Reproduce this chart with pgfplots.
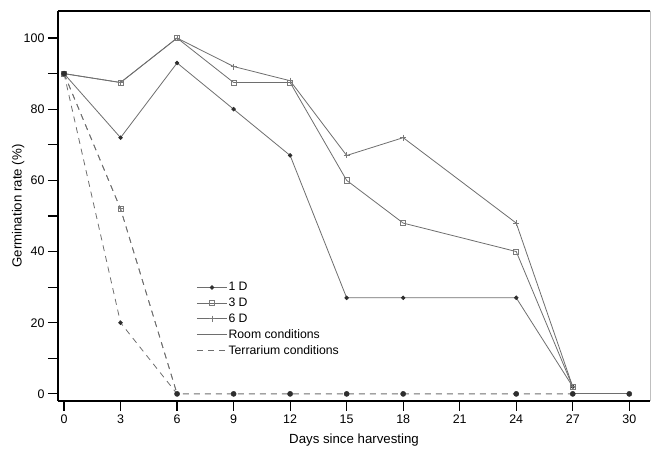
\documentclass[border=0pt]{standalone}
\usepackage{fontspec}
\setmainfont{Liberation Sans}
\usepackage{pgfplots}
\pgfplotsset{compat=1.18}
\definecolor{ln}{HTML}{6E6E6E}
\definecolor{mk}{HTML}{2E2E2E}
\definecolor{sq}{HTML}{7A7A7A}
\begin{document}
\begin{tikzpicture}
\begin{axis}[
  scale only axis, width=592bp, height=390bp,
  xmin=-0.32, xmax=31.1, ymin=-2, ymax=107.6,
  axis x line=box, axis y line=left,
  axis line style={-, line width=1.6bp, black},
  xtick={0,3,...,30}, ytick={0,20,...,100},
  minor ytick={10,30,...,90},
  xtick pos=bottom, ytick pos=left,
  tick align=outside,
  major tick length=10bp, minor tick length=10bp,
  every tick/.style={line width=1.2bp, black},
  /pgf/number format/assume math mode=true,
  tick label style={font=\fontsize{12.5}{14}\selectfont},
  label style={font=\fontsize{13.3}{15}\selectfont},
  xlabel={Days since harvesting},
  ylabel={Germination rate (\%)},
  xlabel style={at={(axis description cs:0.5,0)}, anchor=north, yshift=-29bp},
  ylabel style={at={(axis description cs:0,0.5)}, anchor=south, yshift=30bp},
  legend style={draw=none, fill=none, at={(0.232,0.31)}, anchor=north west,
    font=\fontsize{12.3}{13}\selectfont, row sep=3.2bp, inner sep=1bp,
    nodes={inner sep=1.2bp}},
  legend cell align=left,
  legend image code/.code={\draw[mark repeat=2, mark phase=2, #1] plot coordinates {(0bp,0bp)(15bp,0bp)(30bp,0bp)};},
  clip=false,
]
% Room conditions
\addplot[ln, line width=0.8bp, mark=*, mark size=1.8bp, mark options={mk, fill=mk}]
  coordinates {(0,90)(3,72)(6,93)(9,80)(12,67)(15,27)(18,27)(24,27)(27,2)};
\addlegendentry{1 D}
\addplot[ln, line width=0.8bp, mark=square, mark size=2.6bp, mark options={sq, line width=0.8bp}]
  coordinates {(0,90)(3,87.5)(6,100)(9,87.5)(12,87.5)(15,60)(18,48)(24,40)(27,2)};
\addlegendentry{3 D}
\addplot[ln, line width=0.8bp, mark=+, mark size=3bp, mark options={sq, line width=0.8bp}]
  coordinates {(0,90)(3,87.5)(6,100)(9,92)(12,88)(15,67)(18,72)(24,48)(27,2)};
\addlegendentry{6 D}
\addlegendimage{ln, line width=0.8bp}
\addlegendentry{Room conditions}
\addlegendimage{ln, line width=0.8bp, dash pattern=on 6bp off 5bp}
\addlegendentry{Terrarium conditions}
\addplot[ln, line width=0.8bp, forget plot]
  coordinates {(27,0)(30,0)};
% Terrarium conditions
\addplot[ln, line width=0.8bp, dash pattern=on 6bp off 5bp, mark=*, mark size=1.8bp, mark options={solid, mk, fill=mk}, forget plot]
  coordinates {(0,90)(3,20)(6,0)(9,0)(12,0)(15,0)(18,0)(24,0)(27,0)};
\addplot[ln, line width=0.8bp, dash pattern=on 6bp off 5bp, mark=square, mark size=2.4bp, mark indices={2}, mark options={solid, sq, line width=0.8bp}, forget plot]
  coordinates {(0,90)(3,52)(6,0)};
\addplot[ln, line width=0.8bp, dash pattern=on 6bp off 5bp, mark=+, mark size=2.8bp, mark indices={2}, mark options={solid, sq, line width=0.8bp}, forget plot]
  coordinates {(0,90)(3,52)(6,0)};
% overlapping markers at shared points
\addplot[only marks, mark=*, mark size=2.6bp, mark options={mk, fill=mk}, forget plot]
  coordinates {(0,90)(6,0)(9,0)(12,0)(15,0)(18,0)(24,0)(27,0)(30,0)};
\draw[black!25, line width=0.8bp] (rel axis cs:1,0) -- (rel axis cs:1,1);
\end{axis}
\path[use as bounding box] (-58bp,-44bp) rectangle (597bp,401bp);
\end{tikzpicture}
\end{document}
